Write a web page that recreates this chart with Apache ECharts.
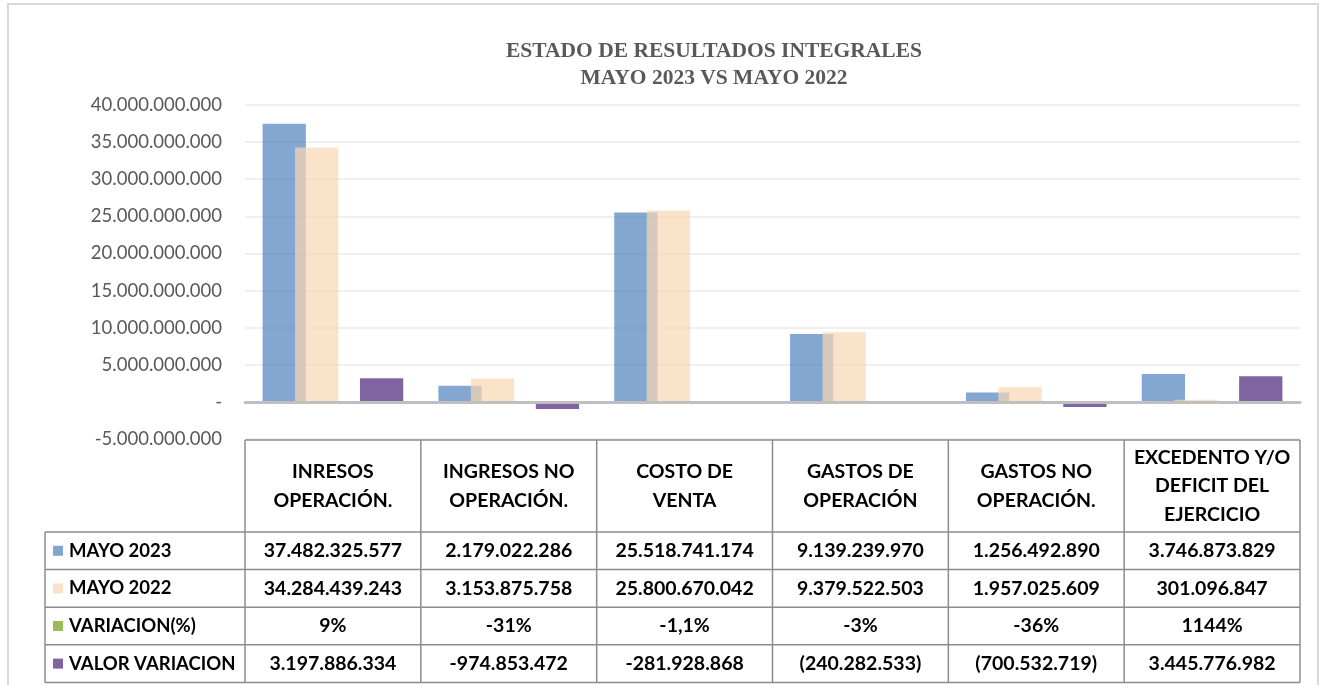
<!DOCTYPE html>
<html>
<head>
<meta charset="utf-8">
<script src="https://cdn.jsdelivr.net/npm/echarts@6/dist/echarts.min.js"></script>
<style>
  html, body { margin: 0; padding: 0; background: #fff; }
  #main { width: 1325px; height: 685px; }
</style>
</head>
<body>
<div id="main"></div>
<script>
// categorias (encabezado de la tabla)
var categories = ['INRESOS\nOPERACIÓN.', 'INGRESOS NO\nOPERACIÓN.', 'COSTO DE\nVENTA',
                  'GASTOS DE\nOPERACIÓN', 'GASTOS NO\nOPERACIÓN.', 'EXCEDENTO Y/O\nDEFICIT DEL\nEJERCICIO'];
var seriesNames = ['MAYO 2023', 'MAYO 2022', 'VARIACION(%)', 'VALOR VARIACION'];

var mayo2023 = [37482325577, 2179022286, 25518741174, 9139239970, 1256492890, 3746873829];
var mayo2022 = [34284439243, 3153875758, 25800670042, 9379522503, 1957025609, 301096847];
var variacionPct = [0.09, -0.31, -0.011, -0.03, -0.36, 11.44];
var variacionPctLabels = ['9%', '-31%', '-1,1%', '-3%', '-36%', '1144%'];
var valorVariacion = [3197886334, -974853472, -281928868, -240282533, -700532719, 3445776982];
var valorVariacionLabels = ['3.197.886.334', '-974.853.472', '-281.928.868', '(240.282.533)', '(700.532.719)', '3.445.776.982'];

var yMin = -5000000000, yMax = 40000000000, yStep = 5000000000;

var barColors = ['rgba(79,129,189,0.7)', 'rgba(250,215,180,0.7)', '#9bbb59', '#8064a2'];
var keyColors = ['#80a6d0', '#fbe0ca', '#9bbb59', '#8064a2'];

function fmtMiles(v){
    var s = Math.abs(Math.round(v)).toString().replace(/\B(?=(\d{3})+(?!\d))/g, '.');
    return (v < 0 ? '-' : '') + s;
}

var chart = echarts.init(document.getElementById('main'));
var option = {
    backgroundColor: '#fff',
    animation: false,
    title: {
        text: 'ESTADO DE RESULTADOS INTEGRALES\nMAYO 2023 VS MAYO 2022',
        left: 709,
        textAlign: 'center',
        top: 33,
        textStyle: {
            fontFamily: 'Liberation Serif',
            fontWeight: 'bold',
            fontSize: 21.5,
            lineHeight: 27,
            color: '#595959'
        }
    },
    grid: { left: 245, right: 25, top: 105, bottom: 246, containLabel: false },
    xAxis: {
        type: 'category',
        data: categories,
        z: 3,
        axisLine: { onZero: true, lineStyle: { color: '#bfbfbf', width: 3 } },
        axisTick: { show: false },
        axisLabel: { show: false }
    },
    yAxis: {
        type: 'value',
        min: yMin,
        max: yMax,
        interval: yStep,
        axisLine: { show: false },
        axisTick: { show: false },
        splitLine: { lineStyle: { color: '#efefef', width: 2 } },
        axisLabel: {
            margin: 23,
            fontFamily: 'Lato',
            fontSize: 18.5,
            color: '#595959',
            formatter: function(v){ return v === 0 ? '-' : fmtMiles(v); }
        }
    },
    series: [
        { name: seriesNames[0], type: 'bar', data: mayo2023, barGap: '-25%', barCategoryGap: '20%',
          itemStyle: { color: barColors[0] } },
        { name: seriesNames[1], type: 'bar', data: mayo2022, itemStyle: { color: barColors[1] } },
        { name: seriesNames[2], type: 'bar', data: variacionPct, itemStyle: { color: barColors[2] } },
        { name: seriesNames[3], type: 'bar', data: valorVariacion, itemStyle: { color: barColors[3] } }
    ]
};
chart.setOption(option);

// tabla de datos bajo el grafico
function drawTable(){
    var g = [];
    var c0 = chart.convertToPixel({xAxisIndex: 0}, 0);
    var c1 = chart.convertToPixel({xAxisIndex: 0}, 1);
    var bw = c1 - c0;
    var left = c0 - bw / 2;
    var right = left + bw * categories.length;
    var top = chart.convertToPixel({yAxisIndex: 0}, yMin) + 1;
    var headH = 92, rowH = 37.6;
    var keyLeft = 45;
    var bottom = top + headH + rowH * 4;
    var lineStyle = { stroke: '#8c8c8c', lineWidth: 1.5 };

    // marco del grafico
    g.push({ type: 'rect', shape: { x: 8, y: 4, width: 1310, height: 700 },
             style: { fill: 'none', stroke: '#d9d9d9', lineWidth: 2 }, silent: true });

    // lineas horizontales
    g.push({ type: 'line', shape: { x1: left, y1: top, x2: right, y2: top }, style: lineStyle });
    for (var r = 0; r <= 4; r++) {
        var y = top + headH + rowH * r;
        g.push({ type: 'line', shape: { x1: keyLeft, y1: y, x2: right, y2: y }, style: lineStyle });
    }
    // lineas verticales
    g.push({ type: 'line', shape: { x1: keyLeft, y1: top + headH, x2: keyLeft, y2: bottom }, style: lineStyle });
    for (var i = 0; i <= categories.length; i++) {
        var x = left + bw * i;
        g.push({ type: 'line', shape: { x1: x, y1: top, x2: x, y2: bottom }, style: lineStyle });
    }

    var txt = { fontFamily: 'Lato', fontWeight: 'bold', fontSize: 19.5, fill: '#000' };

    // encabezado
    categories.forEach(function(cat, i){
        g.push({ type: 'text', x: chart.convertToPixel({xAxisIndex: 0}, i), y: top + headH / 2,
                 style: Object.assign({ text: cat, align: 'center', verticalAlign: 'middle', lineHeight: 28.5 }, txt) });
    });

    // filas
    var rows = [
        mayo2023.map(fmtMiles),
        mayo2022.map(fmtMiles),
        variacionPctLabels,
        valorVariacionLabels
    ];
    rows.forEach(function(row, r){
        var cy = top + headH + rowH * r + rowH / 2;
        g.push({ type: 'rect', shape: { x: keyLeft + 8, y: cy - 5, width: 10, height: 10 },
                 style: { fill: keyColors[r] } });
        g.push({ type: 'text', x: keyLeft + 24, y: cy,
                 style: Object.assign({}, txt, { text: seriesNames[r], align: 'left', verticalAlign: 'middle', fontSize: 18.5 }) });
        row.forEach(function(val, i){
            g.push({ type: 'text', x: chart.convertToPixel({xAxisIndex: 0}, i), y: cy,
                     style: Object.assign({ text: val, align: 'center', verticalAlign: 'middle' }, txt) });
        });
    });

    chart.setOption({ graphic: g });
}
drawTable();
</script>
</body>
</html>
